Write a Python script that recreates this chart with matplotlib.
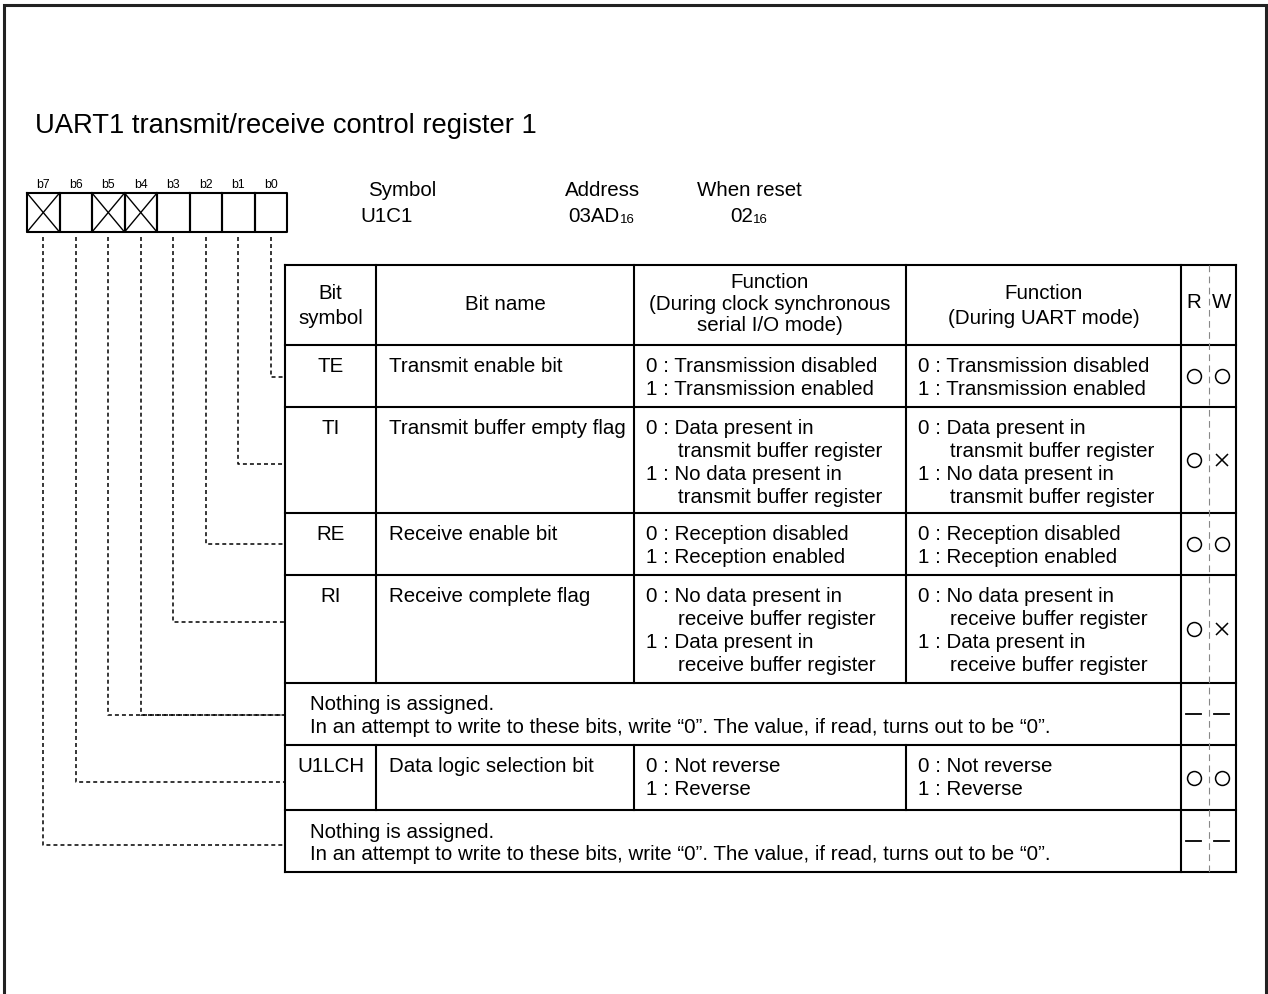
import matplotlib
matplotlib.use("Agg")
import matplotlib.pyplot as plt

plt.rcParams['font.family'] = ['Liberation Sans', 'DejaVu Sans']

# register info
title = "UART1 transmit/receive control register 1"
bit_labels = ["b7", "b6", "b5", "b4", "b3", "b2", "b1", "b0"]
unused_bits = [7, 5, 4]
symbol = "U1C1"
address = "03AD"
reset_val = "02"

# table contents
row_symbols = ["TE", "TI", "RE", "RI", None, "U1LCH", None]
row_names = ["Transmit enable bit", "Transmit buffer empty flag", "Receive enable bit",
             "Receive complete flag", None, "Data logic selection bit", None]
row_bits = [[0], [1], [2], [3], [4, 5], [6], [7]]
func_sync = [
    ["0 : Transmission disabled", "1 : Transmission enabled"],
    ["0 : Data present in", "transmit buffer register", "1 : No data present in", "transmit buffer register"],
    ["0 : Reception disabled", "1 : Reception enabled"],
    ["0 : No data present in", "receive buffer register", "1 : Data present in", "receive buffer register"],
    None,
    ["0 : Not reverse", "1 : Reverse"],
    None,
]
func_uart = [
    ["0 : Transmission disabled", "1 : Transmission enabled"],
    ["0 : Data present in", "transmit buffer register", "1 : No data present in", "transmit buffer register"],
    ["0 : Reception disabled", "1 : Reception enabled"],
    ["0 : No data present in", "receive buffer register", "1 : Data present in", "receive buffer register"],
    None,
    ["0 : Not reverse", "1 : Reverse"],
    None,
]
rw_read = ["O", "O", "O", "O", "-", "O", "-"]
rw_write = ["O", "X", "O", "X", "-", "O", "-"]
nothing_text = ["Nothing is assigned.",
                "In an attempt to write to these bits, write \u201c0\u201d. The value, if read, turns out to be \u201c0\u201d."]

# layout (pixels)
W, H = 1268, 994
col_x = [285, 376, 634, 906, 1181, 1236]
row_y = [265, 345, 407, 513, 575, 683, 745, 810, 872]
conn_y = [377, 464, 544, 622, 715, 782, 845]
box_x0, box_w, box_y0, box_y1 = 27, 32.5, 193, 232
fs = 14.8
lh = 22.7

fig = plt.figure(figsize=(W / 100, H / 100), dpi=100)
ax = fig.add_axes([0, 0, 1, 1])
ax.set_xlim(0, W)
ax.set_ylim(H, 0)
ax.axis('off')

# outer frame
ax.plot([4, 4, 1266, 1266], [H, 5, 5, H], color='#222222', lw=2.2, solid_joinstyle='miter')

ax.text(35, 126, title, fontsize=19.7, va='center', ha='left')

# bit boxes
dash = (0, (2.6, 2.0))
for i, lab in enumerate(bit_labels):
    bit = 7 - i
    x0 = box_x0 + i * box_w
    ax.plot([x0, x0 + box_w, x0 + box_w, x0, x0], [box_y0, box_y0, box_y1, box_y1, box_y0],
            color='black', lw=1.5)
    ax.text(x0 + box_w / 2, 185, lab, fontsize=8.8, ha='center', va='center')
    if bit in unused_bits:
        ax.plot([x0, x0 + box_w], [box_y0, box_y1], color='black', lw=1.0)
        ax.plot([x0, x0 + box_w], [box_y1, box_y0], color='black', lw=1.0)

# connectors
for r, bits in enumerate(row_bits):
    for b in bits:
        xc = box_x0 + (7 - b) * box_w + box_w / 2
        ax.plot([xc, xc, col_x[0]], [237, conn_y[r], conn_y[r]], color='black', lw=1.1,
                linestyle=dash)

# header info
ax.text(402, 190, "Symbol", fontsize=fs, ha='center', va='center')
ax.text(360, 217, symbol, fontsize=fs, ha='left', va='center')
ax.text(603, 190, "Address", fontsize=fs, ha='center', va='center')
ax.text(568, 217, address, fontsize=fs, ha='left', va='center')
ax.text(620, 220, "16", fontsize=9.5, ha='left', va='center')
ax.text(749, 190, "When reset", fontsize=fs, ha='center', va='center')
ax.text(730, 217, reset_val, fontsize=fs, ha='left', va='center')
ax.text(753, 220, "16", fontsize=9.5, ha='left', va='center')

# table grid
lw_t = 1.5
x_l, x_r = col_x[0], col_x[-1]
for y in row_y:
    ax.plot([x_l, x_r], [y, y], color='black', lw=lw_t)
for x in [col_x[0], col_x[-2], col_x[-1]]:
    ax.plot([x, x], [row_y[0], row_y[-1]], color='black', lw=lw_t)
for r in range(len(row_symbols) + 1):
    y0, y1 = row_y[r], row_y[r + 1]
    if r > 0 and row_symbols[r - 1] is None:
        continue
    for x in col_x[1:4]:
        ax.plot([x, x], [y0, y1], color='black', lw=lw_t)
rw_mid = (col_x[4] + col_x[5]) / 2 + 0.5
ax.plot([rw_mid, rw_mid], [row_y[0], row_y[-1]], color='#888888', lw=0.8,
        linestyle=(0, (6, 4)))

# header row
hy = (row_y[0] + row_y[1]) / 2
ax.text((col_x[0] + col_x[1]) / 2, hy + 1, "Bit\nsymbol", fontsize=fs, ha='center', va='center',
        linespacing=1.35)
ax.text((col_x[1] + col_x[2]) / 2, hy, "Bit name", fontsize=fs, ha='center', va='center')
ax.text((col_x[2] + col_x[3]) / 2, hy - 1, "Function\n(During clock synchronous\nserial I/O mode)",
        fontsize=fs, ha='center', va='center', linespacing=1.18)
ax.text((col_x[3] + col_x[4]) / 2, hy + 1, "Function\n(During UART mode)", fontsize=fs,
        ha='center', va='center', linespacing=1.35)
ax.text(1194, 303, "R", fontsize=fs, ha='center', va='center')
ax.text(1222, 303, "W", fontsize=fs, ha='center', va='center')

rx, wx = 1194, 1222


def rw_mark(x, y, s):
    if s == "O":
        ax.plot([x], [y], marker='o', ms=10, mfc='none', mec='black', mew=1.1)
    elif s == "X":
        ax.plot([x], [y], marker='x', ms=8.5, mec='black', mew=1.1)
    else:
        ax.plot([x - 8, x + 7], [y, y], color='black', lw=1.3)


for r in range(len(row_symbols)):
    top = row_y[r + 1]
    mid = (row_y[r + 1] + row_y[r + 2]) / 2
    y1 = top + 22
    if row_symbols[r] is None:
        for k, line in enumerate(nothing_text):
            ax.text(310, y1 + k * lh, line, fontsize=fs, ha='left', va='center')
    else:
        ax.text((col_x[0] + col_x[1]) / 2, y1, row_symbols[r], fontsize=fs, ha='center',
                va='center')
        ax.text(col_x[1] + 13, y1, row_names[r], fontsize=fs, ha='left', va='center')
        for cx, lines in ((col_x[2], func_sync[r]), (col_x[3], func_uart[r])):
            for k, line in enumerate(lines):
                indent = 0 if line[0].isdigit() else 32
                ax.text(cx + 12 + indent, y1 + k * lh, line, fontsize=fs, ha='left',
                        va='center')
    rw_mark(rx, mid, rw_read[r])
    rw_mark(wx, mid, rw_write[r])

fig.savefig("out.png", dpi=100)
